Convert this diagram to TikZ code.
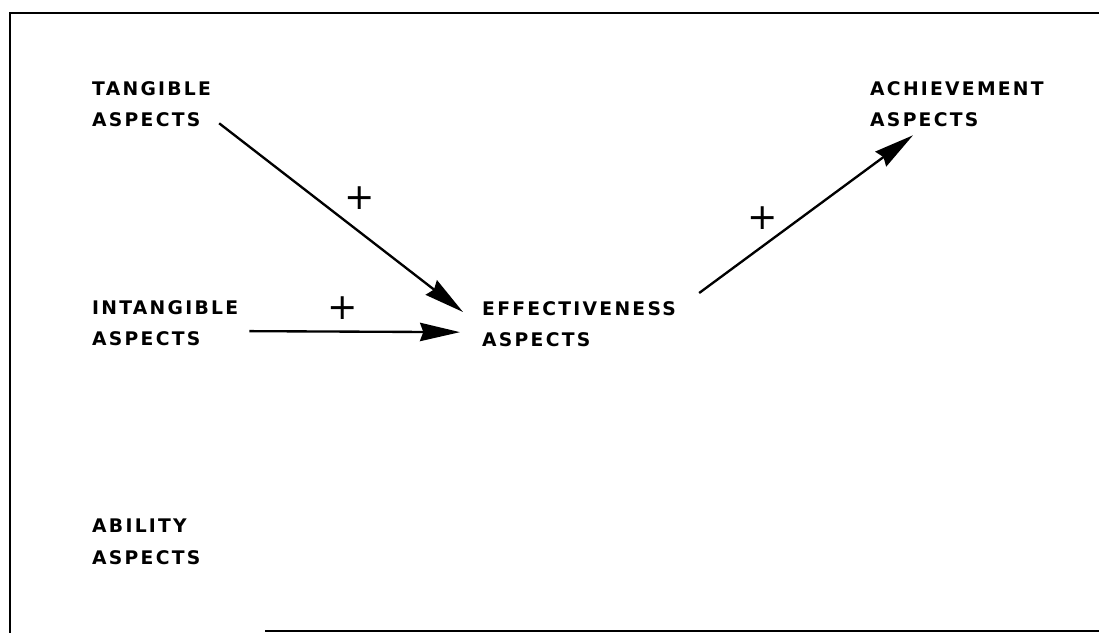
\documentclass[tikz,border=0pt]{standalone}
\usepackage{fontspec}
\newfontfamily\boxfont[LetterSpace=12]{DejaVu Sans Bold}
\newfontfamily\plusfont{DejaVu Sans}
\usetikzlibrary{arrows.meta,calc}
\tikzset{
  asp/label/.style={anchor=north west, align=left, inner sep=0pt,
    font=\boxfont\fontsize{16}{27}\selectfont},
  asp/arrow/.style={-{Stealth[length=12mm,width=5.5mm,inset=1mm]}, line width=2pt},
  asp/plus/.style={inner sep=0pt, font=\plusfont\fontsize{31}{31}\selectfont}
}
\begin{document}
\begin{tikzpicture}[x=0.03cm,y=-0.03cm]
  \useasboundingbox (0,0) rectangle (1099,633);
  % frame
  \draw[line width=2.2pt] (1099,13) -- (10,13) -- (10,633);
  \draw[line width=2.4pt] (265,631) -- (1099,631);

  \node[asp/label] (tangible) at (92,81) {TANGIBLE\\ASPECTS};
  \node[asp/label] (intangible) at (92,300) {INTANGIBLE\\ASPECTS};
  \node[asp/label] (ability) at (92,519) {ABILITY\\ASPECTS};
  \node[asp/label] (effective) at (482,301) {EFFECTIVENESS\\ASPECTS};
  \node[asp/label] (achieve) at (870,81) {ACHIEVEMENT\\ASPECTS};

  \draw[asp/arrow] ($(tangible.south east)+(8,-4)$) -- ($(effective.north west)+(-19,11)$);
  \draw[asp/arrow] ($(intangible.east)+(11,8)$) -- ($(effective.west)+(-22,8)$);
  \draw[asp/arrow] ($(effective.north east)+(23,-8)$) -- ($(achieve.south west)+(43,8)$);

  \node[asp/plus] (p1) at (360,198) {+};
  \node[asp/plus] (p2) at (343,308) {+};
  \node[asp/plus] (p3) at (763,218) {+};
\end{tikzpicture}
\end{document}
